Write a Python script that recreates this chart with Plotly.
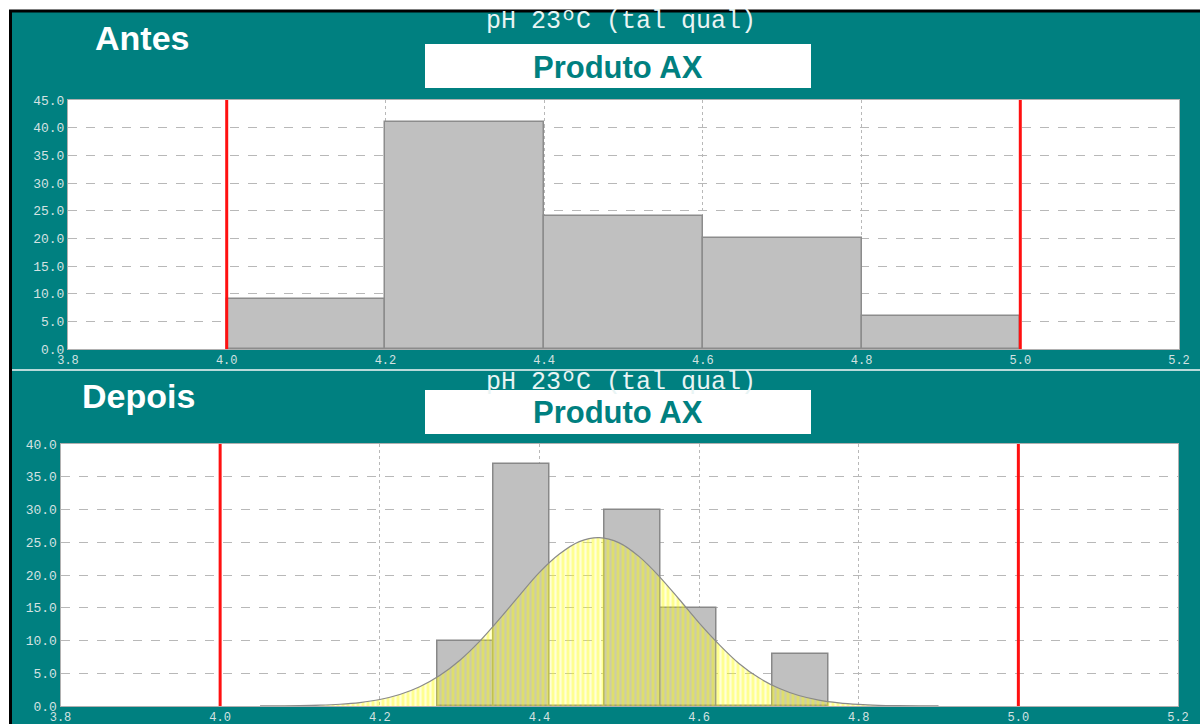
import plotly.graph_objects as go

W, H = 1200, 724

# ---- data ----
antes_bin_start = [4.0, 4.2, 4.4, 4.6, 4.8]
antes_bin_width = 0.2
antes_counts = [9, 41, 24, 20, 6]

depois_bin_start = [4.272, 4.342, 4.412, 4.482, 4.552, 4.622, 4.692]
depois_bin_width = 0.07
depois_counts = [10, 37, 0, 30, 15, 0, 8]

curve_x = [4.05, 4.075, 4.10, 4.125, 4.15, 4.175, 4.20, 4.225, 4.25, 4.275, 4.30, 4.325,
           4.35, 4.375, 4.40, 4.425, 4.45, 4.475, 4.50, 4.525, 4.55, 4.575, 4.60, 4.625,
           4.65, 4.675, 4.70, 4.725, 4.75, 4.775, 4.80, 4.825, 4.85, 4.875, 4.90]
curve_y = [0.01, 0.03, 0.06, 0.13, 0.27, 0.53, 0.99, 1.75, 2.93, 4.64, 6.95, 9.87,
           13.3, 16.9, 20.4, 23.2, 25.1, 25.7, 24.9, 22.8, 19.8, 16.3, 12.7, 9.4,
           6.5, 4.3, 2.7, 1.6, 0.9, 0.48, 0.24, 0.11, 0.05, 0.02, 0.01]

spec_limits = [4.0, 5.0]
x_ticks = [3.8, 4.0, 4.2, 4.4, 4.6, 4.8, 5.0, 5.2]

title_top = "Antes"
title_bottom = "Depois"
subtitle = "pH 23ºC (tal qual)"
product = "Produto AX"

TEAL = "#008080"
TICKC = "#d4e2e2"


def px(x):
    return x / W


def py(y):
    return 1 - y / H


fig = go.Figure()

# Top histogram
fig.add_trace(go.Bar(x=antes_bin_start, y=antes_counts, width=antes_bin_width, offset=0,
                     marker=dict(color="#c0c0c0", line=dict(color="#8c8c8c", width=1.5)),
                     xaxis="x", yaxis="y", showlegend=False, hoverinfo="skip"))

# Bottom: bars, then normal curve with semi-transparent hatched yellow fill over them
fig.add_trace(go.Bar(x=depois_bin_start, y=depois_counts, width=depois_bin_width, offset=0,
                     marker=dict(color="#c0c0c0", line=dict(color="#888888", width=1.5)),
                     xaxis="x2", yaxis="y2", showlegend=False, hoverinfo="skip"))
fig.add_trace(go.Scatter(x=curve_x, y=curve_y, mode="lines", line=dict(color="#8a8a8a", width=1.2, shape="spline"),
                         fill="tozeroy",
                         fillpattern=dict(shape="|", fgcolor="rgba(255,255,0,0.78)",
                                          bgcolor="rgba(255,255,60,0.2)", size=5, solidity=0.5),
                         xaxis="x2", yaxis="y2", showlegend=False, hoverinfo="skip"))

axis_common = dict(showgrid=True, gridcolor="#b8b8b8", zeroline=False, showline=True,
                   linecolor="#b0b0b0", linewidth=1, mirror=True, ticks="", automargin=False)
yfont = dict(family="Liberation Mono", size=13, color=TICKC)
xfont = dict(family="Liberation Mono", size=12, color=TICKC)

fig.update_layout(
    width=W, height=H, margin=dict(l=0, r=0, t=0, b=0, autoexpand=False),
    paper_bgcolor=TEAL, plot_bgcolor="white", bargap=0,
    xaxis=dict(domain=[px(68), px(1179)], range=[3.8, 5.2], tickvals=x_ticks, tickformat=".1f",
               griddash="dot", anchor="y", tickfont=xfont, **axis_common),
    yaxis=dict(domain=[py(349), py(100)], range=[0, 45], dtick=5, tickformat=".1f",
               griddash="dash", anchor="x", tickfont=yfont, **axis_common),
    xaxis2=dict(domain=[px(60.5), px(1178)], range=[3.8, 5.2], tickvals=x_ticks, tickformat=".1f",
                griddash="dot", anchor="y2", tickfont=xfont, **axis_common),
    yaxis2=dict(domain=[py(706), py(444)], range=[0, 40], dtick=5, tickformat=".1f",
                griddash="dash", anchor="x2", tickfont=yfont, **axis_common),
)

shapes = []
# white margins and black frame lines
shapes.append(dict(type="rect", xref="paper", yref="paper", x0=0, x1=1, y0=py(10), y1=1,
                   fillcolor="white", line=dict(width=0), layer="below"))
shapes.append(dict(type="rect", xref="paper", yref="paper", x0=0, x1=px(9), y0=0, y1=1,
                   fillcolor="white", line=dict(width=0), layer="below"))
shapes.append(dict(type="line", xref="paper", yref="paper", x0=px(9), x1=1, y0=py(11), y1=py(11),
                   line=dict(color="black", width=3)))
shapes.append(dict(type="line", xref="paper", yref="paper", x0=px(10.5), x1=px(10.5), y0=0, y1=py(10),
                   line=dict(color="black", width=3)))
# separator
shapes.append(dict(type="line", xref="paper", yref="paper", x0=px(12), x1=1, y0=py(370), y1=py(370),
                   line=dict(color="#b8dada", width=2)))
# product boxes
for (y0, y1) in [(44, 88), (390, 434)]:
    shapes.append(dict(type="rect", xref="paper", yref="paper", x0=px(425), x1=px(811),
                       y0=py(y1), y1=py(y0), fillcolor="white", line=dict(width=0)))
# spec limit lines
for xa, ya in [("x", "y"), ("x2", "y2")]:
    for s in spec_limits:
        shapes.append(dict(type="line", xref=xa, yref=ya + " domain", x0=s, x1=s, y0=0, y1=1,
                           line=dict(color="#ff1010", width=3)))
fig.update_layout(shapes=shapes)

ann = []
ann.append(dict(text="<b>" + title_top + "</b>", x=px(93), y=py(38), xanchor="left", yanchor="middle",
                font=dict(family="Liberation Sans", size=34, color="white"), showarrow=False,
                xref="paper", yref="paper"))
ann.append(dict(text="<b>" + title_bottom + "</b>", x=px(80), y=py(396), xanchor="left", yanchor="middle",
                font=dict(family="Liberation Sans", size=34, color="white"), showarrow=False,
                xref="paper", yref="paper"))
for yy in [22, 382]:
    ann.append(dict(text=subtitle, x=px(621), y=py(yy), xanchor="center", yanchor="middle",
                    font=dict(family="Liberation Mono", size=25, color="#e8f4f4"), showarrow=False,
                    xref="paper", yref="paper"))
for yy in [67, 413]:
    ann.append(dict(text="<b>" + product + "</b>", x=px(618), y=py(yy), xanchor="center", yanchor="middle",
                    font=dict(family="Liberation Sans", size=31, color=TEAL), showarrow=False,
                    xref="paper", yref="paper"))
fig.update_layout(annotations=ann)

fig.write_html("out.html", config={"displayModeBar": False},
               post_script="document.body.style.margin='0';document.body.style.padding='0';"
                           "document.body.style.overflow='hidden';")
